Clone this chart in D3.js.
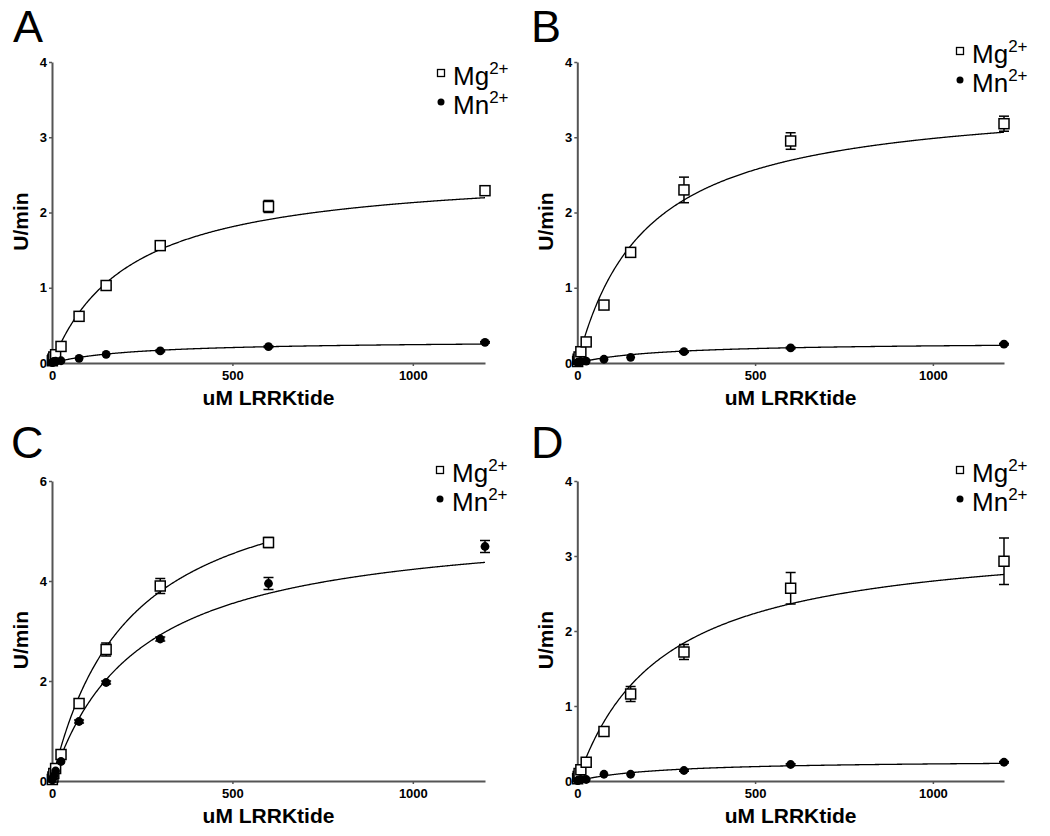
<!DOCTYPE html>
<html><head><meta charset="utf-8">
<script src="https://cdn.jsdelivr.net/npm/d3@7"></script>
<style>
body{margin:0;background:#fff;}
text{font-family:"Liberation Sans",Arial,sans-serif;}
</style></head>
<body><svg id="c" width="1050" height="836"></svg>
<script>
// ---- data ----
const panelLetters = ["A", "B", "C", "D"];
const seriesNames = ["Mg", "Mn"];
const concentrations = [1, 2.5, 5, 10, 25, 75, 150, 300, 600, 1200];
const concentrationsCMg = [1, 2.5, 5, 10, 25, 75, 150, 300, 600];
const xTicks = [0, 500, 1000];
const yTicks4 = [0, 1, 2, 3, 4];
const yTicks6 = [0, 2, 4, 6];

const aMg = [0.03, 0.05, 0.08, 0.11, 0.22, 0.62, 1.03, 1.56, 2.08, 2.29];
const aMgErr = [0, 0, 0, 0, 0.02, 0.03, 0.03, 0.03, 0.08, 0.03];
const aMn = [0.005, 0.01, 0.02, 0.025, 0.03, 0.062, 0.115, 0.16, 0.217, 0.275];
const aMnErr = [0, 0, 0, 0, 0, 0, 0, 0.01, 0.01, 0.01];

const bMg = [0.02, 0.05, 0.08, 0.15, 0.28, 0.77, 1.47, 2.30, 2.95, 3.18];
const bMgErr = [0, 0, 0, 0, 0.02, 0.03, 0.06, 0.17, 0.11, 0.10];
const bMn = [0.005, 0.01, 0.015, 0.02, 0.025, 0.05, 0.076, 0.15, 0.20, 0.25];
const bMnErr = [0, 0, 0, 0, 0, 0, 0, 0.01, 0.01, 0.01];

const cMg = [0.03, 0.08, 0.15, 0.25, 0.53, 1.55, 2.63, 3.90, 4.77];
const cMgErr = [0, 0, 0, 0, 0.03, 0.05, 0.13, 0.15, 0.10];
const cMn = [0.02, 0.06, 0.10, 0.20, 0.39, 1.19, 1.97, 2.84, 3.95, 4.69];
const cMnErr = [0, 0, 0, 0, 0, 0.03, 0.03, 0.04, 0.12, 0.12];

const dMg = [0.03, 0.06, 0.10, 0.15, 0.25, 0.66, 1.16, 1.72, 2.57, 2.93];
const dMgErr = [0, 0, 0, 0, 0.02, 0.03, 0.10, 0.10, 0.21, 0.31];
const dMn = [0.005, 0.01, 0.015, 0.02, 0.02, 0.09, 0.09, 0.14, 0.22, 0.25];
const dMnErr = [0, 0, 0, 0, 0, 0, 0, 0.01, 0.01, 0.01];

// Michaelis-Menten fit parameters [Mg, Mn] per panel
const fitVmax = [[2.59, 0.30], [3.56, 0.28], [6.47, 5.24], [3.30, 0.28]];
const fitKm = [[215, 230], [193, 230], [212, 238], [238, 230]];
const fitMaxX = [[1200, 1200], [1200, 1200], [600, 1200], [1200, 1200]];

// ---- layout ----
const panels = [
  {letter: panelLetters[0], x0: 52, x1: 485, y0: 363, y1: 62, yMax: 4, yTicks: yTicks4,
   series: [{x: concentrations, y: aMg, e: aMgErr}, {x: concentrations, y: aMn, e: aMnErr}],
   legendX: 441, legendY: 73, letterX: 13, letterY: 42},
  {letter: panelLetters[1], x0: 577.3, x1: 1004, y0: 363, y1: 62, yMax: 4, yTicks: yTicks4,
   series: [{x: concentrations, y: bMg, e: bMgErr}, {x: concentrations, y: bMn, e: bMnErr}],
   legendX: 960, legendY: 51, letterX: 531, letterY: 42},
  {letter: panelLetters[2], x0: 52, x1: 485, y0: 781, y1: 481, yMax: 6, yTicks: yTicks6,
   series: [{x: concentrationsCMg, y: cMg, e: cMgErr}, {x: concentrations, y: cMn, e: cMnErr}],
   legendX: 440, legendY: 470, letterX: 11, letterY: 458},
  {letter: panelLetters[3], x0: 577.3, x1: 1004, y0: 781, y1: 481, yMax: 4, yTicks: yTicks4,
   series: [{x: concentrations, y: dMg, e: dMgErr}, {x: concentrations, y: dMn, e: dMnErr}],
   legendX: 960, legendY: 470, letterX: 531, letterY: 458}
];

const svg = d3.select("#c");
const axisColor = "#555";
const fmt = d3.format("d");

panels.forEach((p, pi) => {
  const g = svg.append("g");
  const x = d3.scaleLinear().domain([0, 1200]).range([p.x0, p.x1]);
  const y = d3.scaleLinear().domain([0, p.yMax]).range([p.y0, p.y1]);

  // panel letter
  g.append("text").attr("x", p.letterX).attr("y", p.letterY)
    .attr("font-size", 45).attr("fill", "#000").text(p.letter);

  // y axis
  const yAx = g.append("g").attr("transform", `translate(${p.x0},0)`)
    .call(d3.axisLeft(y).tickValues(p.yTicks).tickFormat(fmt).tickSize(3).tickSizeOuter(0).tickPadding(2));
  yAx.select(".domain").attr("stroke", axisColor).attr("stroke-width", 2);
  yAx.selectAll(".tick line").attr("stroke", axisColor).attr("stroke-width", 1.5);
  yAx.selectAll(".tick text").attr("font-size", 13).attr("font-weight", "bold")
    .attr("fill", "#000").attr("font-family", "Liberation Sans, Arial, sans-serif");

  // x axis
  const xAx = g.append("g").attr("transform", `translate(0,${p.y0})`)
    .call(d3.axisBottom(x).tickValues(xTicks).tickFormat(fmt).tickSize(3).tickSizeOuter(0).tickPadding(5));
  xAx.select(".domain").attr("stroke", axisColor).attr("stroke-width", 2);
  xAx.selectAll(".tick line").attr("stroke", axisColor).attr("stroke-width", 1.5);
  xAx.selectAll(".tick text").attr("font-size", 13).attr("font-weight", "bold")
    .attr("fill", "#000").attr("font-family", "Liberation Sans, Arial, sans-serif");

  // axis titles
  g.append("text").attr("x", (p.x0 + p.x1) / 2).attr("y", p.y0 + 42)
    .attr("text-anchor", "middle").attr("font-size", 21).attr("font-weight", "bold")
    .text("uM LRRKtide");
  g.append("text")
    .attr("transform", `translate(${p.x0 - 24},${(p.y0 + p.y1) / 2 + 9}) rotate(-90)`)
    .attr("text-anchor", "middle").attr("font-size", 21).attr("font-weight", "bold")
    .text("U/min");

  // fit curves
  const line = d3.line().x(d => x(d[0])).y(d => y(d[1]));
  [0, 1].forEach(si => {
    const vm = fitVmax[pi][si], km = fitKm[pi][si];
    const pts = d3.range(0, fitMaxX[pi][si] + 0.1, 2).map(s => [s, vm * s / (km + s)]);
    g.append("path").attr("d", line(pts)).attr("fill", "none")
      .attr("stroke", "#000").attr("stroke-width", 1.3);
  });

  // error bars + markers
  p.series.forEach((s, si) => {
    const data = s.x.map((c, i) => ({c, v: s.y[i], e: s.e[i]}));
    const eg = g.append("g").attr("stroke", "#000").attr("stroke-width", 1.5);
    data.filter(d => d.e > 0).forEach(d => {
      const cx = x(d.c);
      eg.append("line").attr("x1", cx).attr("x2", cx).attr("y1", y(d.v - d.e)).attr("y2", y(d.v + d.e));
      [d.v - d.e, d.v + d.e].forEach(v => eg.append("line")
        .attr("x1", cx - 5).attr("x2", cx + 5).attr("y1", y(v)).attr("y2", y(v)));
    });
    if (si === 0) {
      g.selectAll(null).data(data).enter().append("rect")
        .attr("x", d => x(d.c) - 5).attr("y", d => y(d.v) - 5)
        .attr("width", 10).attr("height", 10)
        .attr("fill", "#fff").attr("stroke", "#000").attr("stroke-width", 1.5);
    } else {
      g.selectAll(null).data(data).enter().append("circle")
        .attr("cx", d => x(d.c)).attr("cy", d => y(d.v)).attr("r", 4.4)
        .attr("fill", "#000");
    }
  });

  // legend
  const lg = g.append("g");
  seriesNames.forEach((name, si) => {
    const ly = p.legendY + si * 29;
    if (si === 0) {
      lg.append("rect").attr("x", p.legendX - 3.5).attr("y", ly - 3.5).attr("width", 7).attr("height", 7)
        .attr("fill", "#fff").attr("stroke", "#000").attr("stroke-width", 1.3);
    } else {
      lg.append("circle").attr("cx", p.legendX).attr("cy", ly).attr("r", 3.5).attr("fill", "#000");
    }
    const t = lg.append("text").attr("x", p.legendX + 12).attr("y", ly + 12)
      .attr("font-size", 26).attr("fill", "#000");
    t.append("tspan").text(name);
    t.append("tspan").attr("font-size", 17).attr("dy", -11).text("2+");
  });
});
</script></body></html>
